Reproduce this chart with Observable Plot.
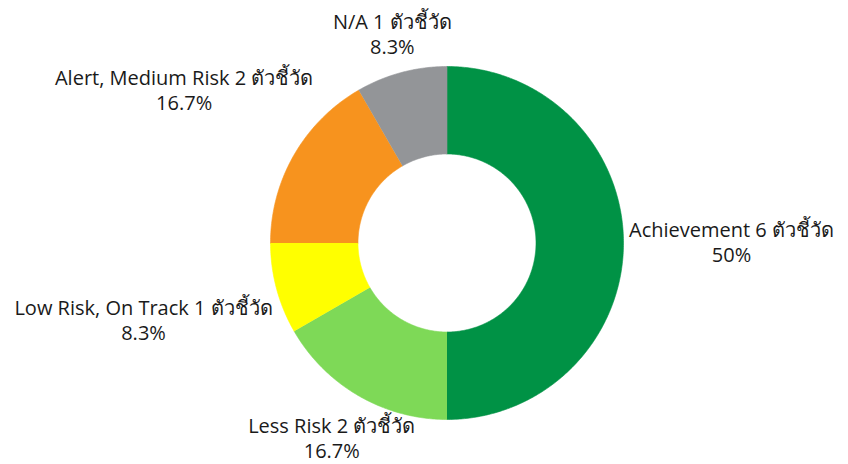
<!DOCTYPE html>
<html><head><meta charset="utf-8">
<script src="https://cdn.jsdelivr.net/npm/d3@7"></script>
<script src="https://cdn.jsdelivr.net/npm/@observablehq/plot@0.6"></script>
<style>body{margin:0;background:#fff}#chart svg{display:block}</style>
</head><body><div id="chart"></div>
<script>
// ---- data ----
const categories = ["Achievement", "Less Risk", "Low Risk, On Track", "Alert, Medium Risk", "N/A"];
const counts = [6, 2, 1, 2, 1];
const percentLabels = ["50%", "16.7%", "8.3%", "16.7%", "8.3%"];
const unitLabel = "ตัวชี้วัด";
const colors = ["#009245", "#7ed957", "#ffff00", "#f7931e", "#939598"];

// ---- layout ----
const W = 848, H = 464, cx = 446.5, cy = 242.5, R = 176.5, innerFrac = 89 / 176.5;
// label nudges (px, screen coords) from each slice's outer mid-point
const labelNudge = [[108, -2], [-27, 42], [-133, 31], [-110, -65], [-9, -39]];

const data = categories.map((c, i) => ({key: c, count: counts[i], i}));
const arcs = d3.pie().sort(null).value(d => d.count)(data);

const pts = [];
arcs.forEach(a => {
  const n = Math.max(8, Math.ceil((a.endAngle - a.startAngle) / 0.01));
  for (let k = 0; k <= n; k++) {
    const t = a.startAngle + (a.endAngle - a.startAngle) * k / n;
    pts.push({key: a.data.key, x: Math.sin(t), y: Math.cos(t)});
  }
  for (let k = n; k >= 0; k--) {
    const t = a.startAngle + (a.endAngle - a.startAngle) * k / n;
    pts.push({key: a.data.key, x: innerFrac * Math.sin(t), y: innerFrac * Math.cos(t)});
  }
});

const labels = arcs.map((a, i) => {
  const m = (a.startAngle + a.endAngle) / 2;
  return {
    x: Math.sin(m) + labelNudge[i][0] / R,
    y: Math.cos(m) - labelNudge[i][1] / R,
    text: `${a.data.key} ${a.data.count} ${unitLabel}\n${percentLabels[i]}`
  };
});

const chart = Plot.plot({
  width: W, height: H,
  margin: 0,
  x: {domain: [-cx / R, (W - cx) / R], range: [0, W], axis: null},
  y: {domain: [-(H - cy) / R, cy / R], range: [H, 0], axis: null},
  color: {domain: categories, range: colors},
  style: {fontFamily: "'Open Sans', 'Noto Sans', 'DejaVu Sans', sans-serif", background: "#fff"},
  marks: [
    Plot.line(pts, {x: "x", y: "y", z: "key", fill: "key", stroke: "key", strokeWidth: 0.6, curve: "linear"}),
    Plot.text(labels, {x: "x", y: "y", text: "text", fontSize: 20, lineHeight: 1.25, fill: "#1a1a1a", textAnchor: "middle"})
  ]
});
document.getElementById("chart").appendChild(chart);
</script>
</body></html>
